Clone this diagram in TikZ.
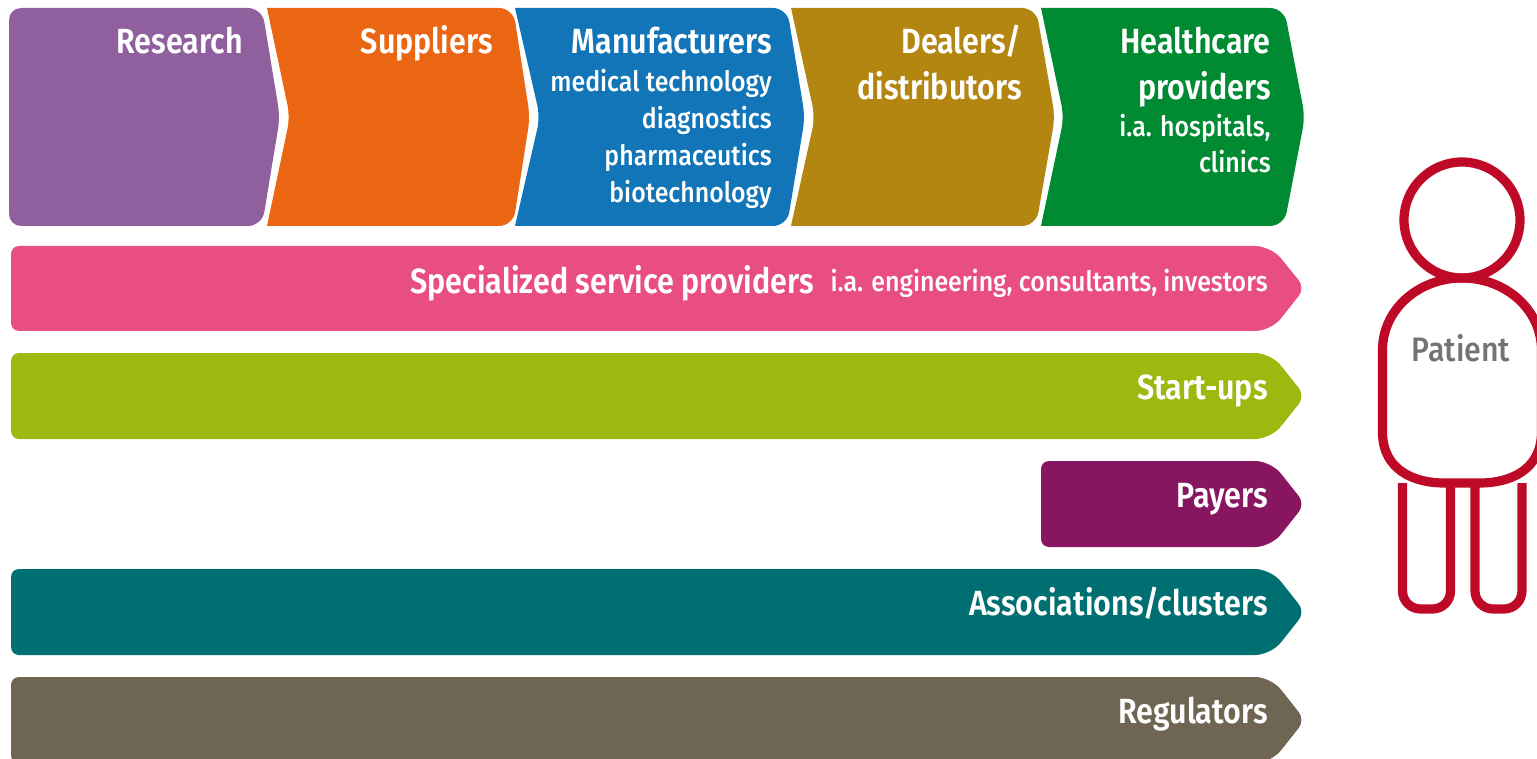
\documentclass[tikz,border=0pt]{standalone}
\usepackage{fontspec}
\setmainfont{Fira Sans}[FakeStretch=0.85]
\newfontfamily\headfont{Fira Sans SemiBold}[FakeStretch=0.87]
\newfontfamily\subfont{Fira Sans Medium}[FakeStretch=0.89]
\definecolor{researchpurple}{HTML}{8F5F9E}
\definecolor{supplierorange}{HTML}{EA6612}
\definecolor{makerblue}{HTML}{1275B8}
\definecolor{dealerochre}{HTML}{B38611}
\definecolor{providergreen}{HTML}{008A32}
\definecolor{servicepink}{HTML}{E84E80}
\definecolor{startuplime}{HTML}{9DB80E}
\definecolor{payerplum}{HTML}{881560}
\definecolor{clusterteal}{HTML}{006F72}
\definecolor{regulatorgrey}{HTML}{6E6552}
\definecolor{patientred}{HTML}{BE0A26}
\tikzset{
  head/.style={anchor=base east, inner sep=0pt, text=white, font=\fontsize{17.5}{20}\selectfont\headfont},
  sub/.style={anchor=base east, inner sep=0pt, text=white, font=\fontsize{14}{16}\selectfont\subfont},
  outline/.style={draw=patientred, line width=4.6pt}
}
\begin{document}
\begin{tikzpicture}[x=0.5pt, y=-0.5pt]
  \useasboundingbox (0,0) rectangle (1537,759);
  % value chain
  \fill[researchpurple] (9,117) [rounded corners=6pt] -- (9,8) [rounded corners=7pt] -- (262,8) [rounded corners=6pt] -- (280,117) [rounded corners=7pt] -- (262,226) [rounded corners=6pt] -- (9,226) [sharp corners] -- cycle;
  \fill[supplierorange] (267,8) [rounded corners=7pt] -- (513,8) [rounded corners=6pt] -- (530,117) [rounded corners=7pt] -- (513,226) [sharp corners] -- (267,226) [rounded corners=6pt] -- (290,117) [sharp corners] -- cycle;
  \fill[makerblue] (515,8) [rounded corners=7pt] -- (787,8) [rounded corners=6pt] -- (805,117) [rounded corners=7pt] -- (787,226) [sharp corners] -- (515,226) [rounded corners=6pt] -- (540,117) [sharp corners] -- cycle;
  \fill[dealerochre] (791,8) [rounded corners=7pt] -- (1036,8) [rounded corners=6pt] -- (1055,117) [rounded corners=7pt] -- (1036,226) [sharp corners] -- (791,226) [rounded corners=6pt] -- (815,117) [sharp corners] -- cycle;
  \fill[providergreen] (1041,8) [rounded corners=7pt] -- (1284,8) [rounded corners=6pt] -- (1305,117) [rounded corners=7pt] -- (1284,226) [sharp corners] -- (1041,226) [rounded corners=6pt] -- (1064,117) [sharp corners] -- cycle;
  % bars
  \fill[servicepink] (11,288) [rounded corners=4pt] -- (11,246) [rounded corners=8pt] -- (1271,246) [rounded corners=5pt] -- (1305,288) [rounded corners=8pt] -- (1271,331) [rounded corners=4pt] -- (11,331) [sharp corners] -- cycle;
  \fill[startuplime] (11,396) [rounded corners=4pt] -- (11,353) [rounded corners=8pt] -- (1271,353) [rounded corners=5pt] -- (1305,396) [rounded corners=8pt] -- (1271,439) [rounded corners=4pt] -- (11,439) [sharp corners] -- cycle;
  \fill[payerplum] (1041,504) [rounded corners=4pt] -- (1041,461) [rounded corners=8pt] -- (1271,461) [rounded corners=5pt] -- (1305,504) [rounded corners=8pt] -- (1271,547) [rounded corners=4pt] -- (1041,547) [sharp corners] -- cycle;
  \fill[clusterteal] (11,612) [rounded corners=4pt] -- (11,569) [rounded corners=8pt] -- (1271,569) [rounded corners=5pt] -- (1305,612) [rounded corners=8pt] -- (1271,655) [rounded corners=4pt] -- (11,655) [sharp corners] -- cycle;
  \fill[regulatorgrey] (11,720) [rounded corners=4pt] -- (11,677) [rounded corners=8pt] -- (1271,677) [rounded corners=5pt] -- (1305,720) [rounded corners=8pt] -- (1271,763) [rounded corners=4pt] -- (11,763) [sharp corners] -- cycle;
  % labels
  \node[head] (research) at (243,54) {Research};
  \node[head] (suppliers) at (493,54) {Suppliers};
  \node[head] (makers) at (772,54) {Manufacturers};
  \node[sub] (medtech) at (772,92) {medical technology};
  \node[sub] (diagnostics) at (772,129) {diagnostics};
  \node[sub] (pharma) at (772,166) {pharmaceutics};
  \node[sub] (biotech) at (772,203) {biotechnology};
  \node[head] (dealers) at (1022,54) {Dealers/};
  \node[head] (distributors) at (1022,100) {distributors};
  \node[head] (healthcare) at (1271,54) {Healthcare};
  \node[head] (providers) at (1271,100) {providers};
  \node[sub] (hospitals) at (1271,137) {i.a. hospitals,};
  \node[sub] (clinics) at (1271,173) {clinics};
  \node[head] (services) at (814,293) {Specialized service providers};
  \node[sub] (servicetypes) at (1268,292) {i.a. engineering, consultants, investors};
  \node[head] (startups) at (1268,399) {Start-ups};
  \node[head] (payers) at (1268,507) {Payers};
  \node[head] (clusters) at (1268,615) {Associations/clusters};
  \node[head] (regulators) at (1268,723) {Regulators};
  % patient
  \draw[outline, rounded corners=9pt] (1402.5,483) -- (1402.5,609) -- (1450.5,609) -- (1450.5,483);
  \draw[outline, rounded corners=9pt] (1475,483) -- (1475,609) -- (1522,609) -- (1522,483);
  \draw[outline] (1382.5,350) .. controls (1382.5,310) and (1418,278) .. (1462,278) .. controls (1506,278) and (1541.5,310) .. (1541.5,350) -- (1541.5,432) .. controls (1541.5,470) and (1510,483) .. (1480,483) -- (1444,483) .. controls (1414,483) and (1382.5,470) .. (1382.5,432) -- cycle;
  \draw[outline] (1462,220) circle (29pt);
  \node[anchor=base, inner sep=0pt, text=black!55, font=\fontsize{17}{19}\selectfont\subfont] (patient) at (1461,361) {Patient};
\end{tikzpicture}
\end{document}
